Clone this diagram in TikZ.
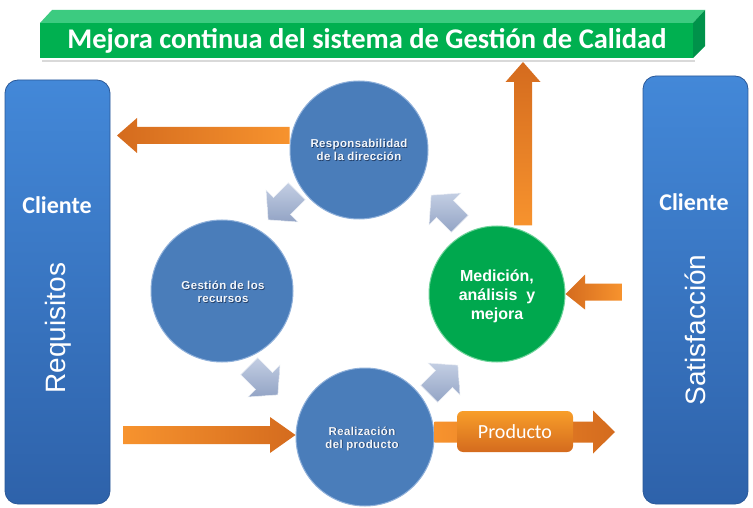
\documentclass[tikz,border=0pt]{standalone}
\usepackage{fontspec}
\setmainfont{Liberation Sans}
\newfontfamily\calib{Carlito}
\newfontfamily\circfont[LetterSpace=3]{Liberation Sans}
\definecolor{cblue}{HTML}{4A7DBA}
\definecolor{cblueedge}{HTML}{8FB0DA}
\definecolor{boxtop}{HTML}{4388D8}
\definecolor{boxbot}{HTML}{2E62AA}
\definecolor{boxedge}{HTML}{2A5898}
\definecolor{ogdark}{HTML}{D46B1E}
\definecolor{oglight}{HTML}{F7932E}
\definecolor{gfront}{HTML}{00B050}
\definecolor{gtop}{HTML}{3CCB80}
\definecolor{gside}{HTML}{00924A}
\definecolor{gcirc}{HTML}{00A84E}
\definecolor{gcircedge}{HTML}{6FD39A}
\definecolor{garr}{HTML}{A7B6D3}
\definecolor{garrtop}{HTML}{C3CEE3}
\definecolor{garrbot}{HTML}{93A4C5}
\definecolor{txtshadow}{HTML}{23406A}
\newcommand\grayarrow[3]{%
  \begin{scope}[shift={(#1,#2)},rotate=#3,scale=1.5]
    \path[top color=garrtop,bottom color=garrbot,draw=white!80!garr,line width=0.5pt]
      (-13,-8) -- (1,-8) -- (1,-15) -- (14,0) -- (1,15) -- (1,8) -- (-13,8) -- cycle;
  \end{scope}}
\tikzset{
  circ/.style={circle,inner sep=0pt,minimum size=138pt,fill=cblue,draw=cblueedge,line width=1pt},
  bluebox/.style={rectangle,rounded corners=13pt,top color=boxtop,bottom color=boxbot,draw=boxedge,line width=0.8pt,inner sep=0pt},
  ctext/.style={align=center,text=white!94!cblue,font=\circfont\bfseries\fontsize{11.5}{13}\selectfont},
  cshadow/.style={align=center,text=txtshadow,font=\circfont\bfseries\fontsize{11.5}{13}\selectfont},
  clientetext/.style={text=white,font=\calib\bfseries\fontsize{24}{26}\selectfont},
  sidetext/.style={text=white,rotate=90,font=\fontsize{28}{30}\selectfont},
}
\begin{document}
\begin{tikzpicture}[x=1pt,y=-1pt]
\useasboundingbox[fill=white] (0,0) rectangle (753,508);

% banner
\fill[black!15] (42,60) rectangle (695,62);
\fill[gtop] (40,23) -- (52,10) -- (705,10) -- (693,23) -- cycle;
\fill[gside] (693,23) -- (705,10) -- (705,46) -- (693,58) -- cycle;
\node[fill=gfront,minimum width=653pt,minimum height=35pt,inner sep=0pt,anchor=north west] (banner) at (40,23) {};
\node[text=white,font=\calib\bfseries\fontsize{28.5}{30}\selectfont] (bannertext) at (367,41) {Mejora continua del sistema de Gestión de Calidad};

% side boxes
\node[bluebox,minimum width=105pt,minimum height=424pt] (lbox) at (57.5,292) {};
\node[bluebox,minimum width=105pt,minimum height=428pt] (rbox) at (695.5,290) {};
\node[clientetext] (lcli) at (57,205) {Cliente};
\node[clientetext] (rcli) at (694,202) {Cliente};
\node[sidetext] (req) at (58,328) {Requisitos};
\node[sidetext] (sat) at (695,330) {Satisfacción};

% circles
\node[circ] (resp) at (359,150) {};
\node[circ,minimum size=142pt] (gest) at (222,291) {};
\node[circ] (real) at (365,437) {};
\node[circ,fill=gcirc,draw=gcircedge,minimum size=136pt] (med) at (497,294) {};

\node[cshadow] (resps) at (359.8,150.5) {Responsabilidad\\de la dirección};
\node[ctext] (respt) at (359,149.7) {Responsabilidad\\de la dirección};
\node[cshadow] (gests) at (223.8,292.8) {Gestión de los\\recursos};
\node[ctext] (gestt) at (223,292) {Gestión de los\\recursos};
\node[cshadow] (reals) at (362.8,439.3) {Realización\\del producto};
\node[ctext] (realt) at (362,438.5) {Realización\\del producto};
\node[align=center,text=white,font=\bfseries\fontsize{16}{19}\selectfont] (medt) at (497,296) {Medición,\\análisis\ \ y\\mejora};

% gray cycle arrows
\grayarrow{283}{205}{225}
\grayarrow{263}{380}{315}
\grayarrow{443}{380}{45}
\grayarrow{446}{210}{135}

% orange arrows
\path[left color=ogdark,right color=oglight]
  (resp.west|-0,127) -- (137,127) -- (137,118) -- (117,135.5) -- (137,153) -- (137,144) -- (resp.west|-0,144) -- cycle;
\path[left color=oglight,right color=ogdark]
  (123,426) -- (270,426) -- (270,417) -- (real.west|-0,435) -- (270,453) -- (270,444) -- (123,444) -- cycle;
\coordinate (uptip) at (523,62);
\path[top color=ogdark,bottom color=oglight]
  (med.north-|514,0) -- (514,82) -- (505.5,82) -- (uptip) -- (540.5,82) -- (532,82) -- (med.north-|532,0) -- cycle;
\path[left color=ogdark,right color=oglight]
  (med.east) -- (585,274.5) -- (585,283.5) -- (622,283.5) -- (622,300.5) -- (585,300.5) -- (585,309.5) -- cycle;
\path[left color=oglight,right color=ogdark]
  (real.east|-0,421.5) -- (593,421.5) -- (593,410.5) -- (615,432) -- (593,453.5) -- (593,442.5) -- (real.east|-0,442.5) -- cycle;
\node[rectangle,rounded corners=6pt,top color=oglight!90!yellow,bottom color=ogdark,minimum width=116pt,minimum height=41pt,inner sep=0pt,text=white,font=\calib\fontsize{20}{22}\selectfont] (prod) at (515,431.5) {Producto};
\end{tikzpicture}
\end{document}
